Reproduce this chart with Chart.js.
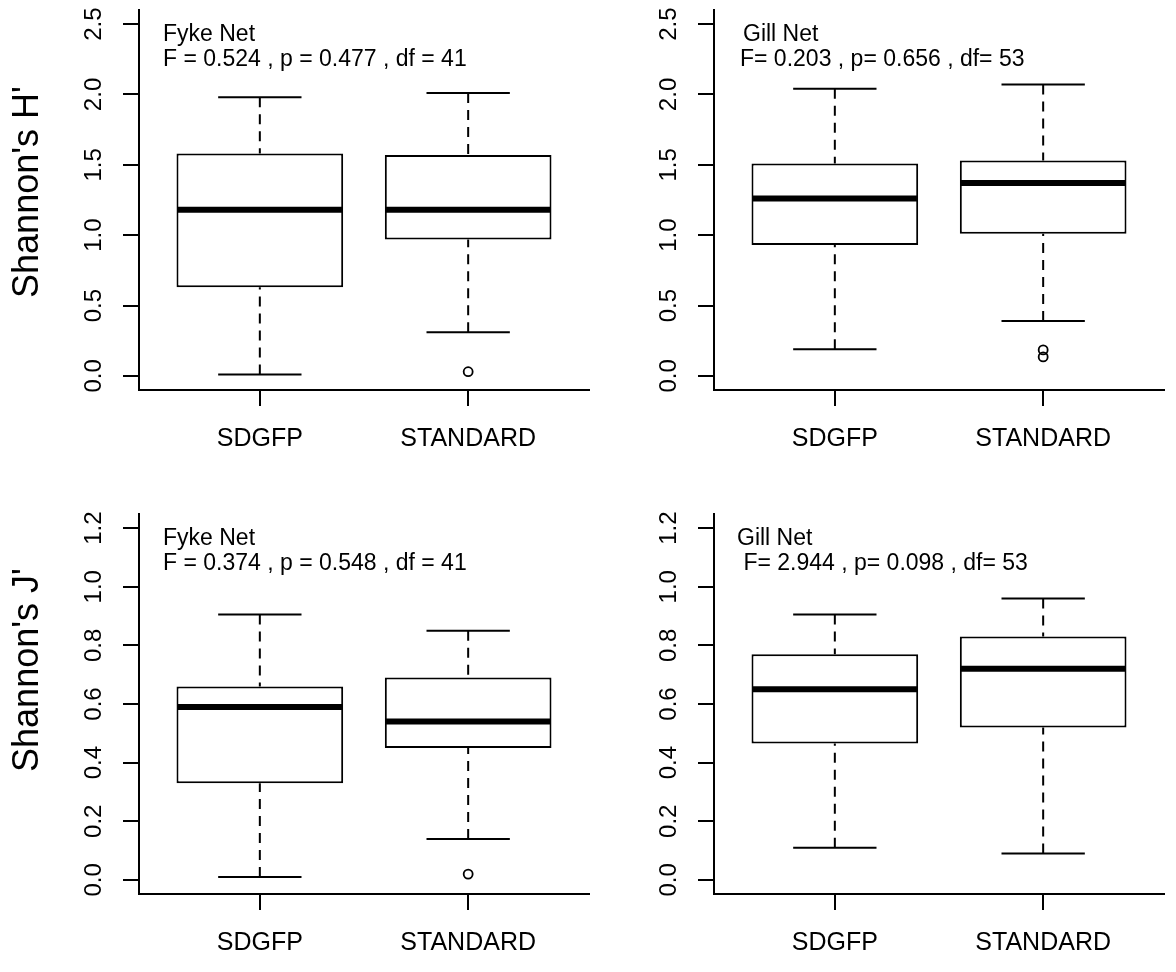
<!DOCTYPE html>
<html>
<head>
<meta charset="utf-8">
<script src="https://cdn.jsdelivr.net/npm/chart.js@4.4.1/dist/chart.umd.min.js"></script>
<style>
html, body { margin: 0; padding: 0; background: #fff; }
#wrap { position: relative; width: 1176px; height: 972px; overflow: hidden; }
canvas { position: absolute; }
</style>
</head>
<body>
<div id="wrap">
  <canvas id="fykeH" width="600" height="486" style="left:0px;top:0px"></canvas>
  <canvas id="gillH" width="588" height="486" style="left:588px;top:0px"></canvas>
  <canvas id="fykeJ" width="600" height="486" style="left:0px;top:486px"></canvas>
  <canvas id="gillJ" width="588" height="486" style="left:588px;top:486px"></canvas>
</div>
<script>
// groups on the x axis
var groups = ['SDGFP', 'STANDARD'];

// y tick labels
var ticksH = [0, 0.5, 1.0, 1.5, 2.0, 2.5];
var ticksJ = [0, 0.2, 0.4, 0.6, 0.8, 1.0, 1.2];

// box stats per group: [lower whisker, Q1, median, Q3, upper whisker]
var fykeHStats = [[0.01, 0.63, 1.18, 1.58, 1.98], [0.31, 0.97, 1.18, 1.57, 2.01]];
var gillHStats = [[0.19, 0.93, 1.26, 1.51, 2.04], [0.39, 1.01, 1.37, 1.53, 2.07]];
var fykeJStats = [[0.01, 0.33, 0.59, 0.66, 0.905], [0.14, 0.45, 0.54, 0.69, 0.85]];
var gillJStats = [[0.11, 0.465, 0.65, 0.77, 0.905], [0.09, 0.52, 0.72, 0.83, 0.96]];

// outliers per group
var fykeHOut = [[], [0.03]];
var gillHOut = [[], [0.185, 0.135]];
var fykeJOut = [[], [0.02]];
var gillJOut = [[], []];

var FONT = "'Liberation Sans', Arial, Helvetica, sans-serif";

// whiskers, caps, medians, y labels and the text in the corner
var boxPlugin = {
  id: 'boxPlugin',
  afterDatasetsDraw: function(chart, args, opts) {
    var ctx = chart.ctx;
    var xs = chart.scales.x, ys = chart.scales.y;
    var area = chart.chartArea;
    ctx.save();
    ctx.strokeStyle = '#000';
    opts.stats.forEach(function(s, i) {
      var px = xs.getPixelForValue(i + 1);
      // dashed whiskers from the ends to the box
      ctx.lineWidth = 2;
      ctx.setLineDash([10, 7]);
      ctx.beginPath();
      ctx.moveTo(px, ys.getPixelForValue(s[0]));
      ctx.lineTo(px, ys.getPixelForValue(s[1]));
      ctx.moveTo(px, ys.getPixelForValue(s[4]));
      ctx.lineTo(px, ys.getPixelForValue(s[3]));
      ctx.stroke();
      ctx.setLineDash([]);
      // staples
      var c0 = xs.getPixelForValue(i + 1 - 0.2), c1 = xs.getPixelForValue(i + 1 + 0.2);
      ctx.beginPath();
      ctx.moveTo(c0, ys.getPixelForValue(s[0]));
      ctx.lineTo(c1, ys.getPixelForValue(s[0]));
      ctx.moveTo(c0, ys.getPixelForValue(s[4]));
      ctx.lineTo(c1, ys.getPixelForValue(s[4]));
      ctx.stroke();
      // median
      ctx.lineWidth = 6;
      ctx.beginPath();
      ctx.moveTo(xs.getPixelForValue(i + 1 - 0.4) + 1, ys.getPixelForValue(s[2]));
      ctx.lineTo(xs.getPixelForValue(i + 1 + 0.4) - 1, ys.getPixelForValue(s[2]));
      ctx.stroke();
    });

    // rotated y tick labels
    ctx.fillStyle = '#000';
    ctx.font = '24px ' + FONT;
    ctx.textAlign = 'center';
    ctx.textBaseline = 'middle';
    opts.ticks.forEach(function(v) {
      ctx.save();
      ctx.translate(area.left - 45, ys.getPixelForValue(v));
      ctx.rotate(-Math.PI / 2);
      ctx.fillText(v.toFixed(1), 0, 0);
      ctx.restore();
    });

    // y axis title
    if (opts.ylab) {
      ctx.save();
      ctx.font = '36px ' + FONT;
      ctx.translate(28, opts.ylabY);
      ctx.rotate(-Math.PI / 2);
      ctx.fillText(opts.ylab, 0, 0);
      ctx.restore();
    }

    // net name and test result
    ctx.font = '23px ' + FONT;
    ctx.textAlign = 'left';
    ctx.textBaseline = 'alphabetic';
    ctx.fillText(opts.title, area.left + opts.tx[0], area.top + 31);
    ctx.fillText(opts.result, area.left + opts.tx[1], area.top + 56);
    ctx.restore();
  }
};

function makePanel(id, stats, outliers, ticks, ylab, ylabY, title, result, tx, padTop, padRight, yWidth, xHeight) {
  var lo = ticks[0], hi = ticks[ticks.length - 1];
  var ext = (hi - lo) * 0.04;
  var outPts = [];
  outliers.forEach(function(list, i) {
    list.forEach(function(v) { outPts.push({ x: i + 1, y: v }); });
  });
  var axisGrid = { drawOnChartArea: false, drawTicks: true, tickLength: 16, color: '#000', lineWidth: 2 };
  var axisBorder = { display: true, color: '#000', width: 2 };

  return new Chart(document.getElementById(id), {
    type: 'bar',
    data: {
      datasets: [{
        type: 'bar',
        data: stats.map(function(s, i) { return { x: i + 1, y: [s[1], s[3]] }; }),
        backgroundColor: '#fff',
        borderColor: '#000',
        borderWidth: 2,
        borderSkipped: false,
        barPercentage: 0.8,
        categoryPercentage: 1
      }, {
        type: 'scatter',
        data: outPts,
        pointRadius: 4.5,
        pointBorderWidth: 1.8,
        pointBackgroundColor: 'rgba(0,0,0,0)',
        pointBorderColor: '#000',
        showLine: false
      }]
    },
    options: {
      responsive: false,
      animation: false,
      events: [],
      devicePixelRatio: 1,
      layout: { autoPadding: false, padding: { left: 0, right: padRight, top: padTop, bottom: 0 } },
      plugins: {
        legend: { display: false },
        tooltip: { enabled: false },
        boxPlugin: { stats: stats, ticks: ticks, ylab: ylab, ylabY: ylabY, title: title, result: result, tx: tx }
      },
      scales: {
        x: {
          type: 'linear',
          min: 0.42,
          max: 2.58,
          offset: false,
          afterBuildTicks: function(s) { s.ticks = groups.map(function(g, i) { return { value: i + 1 }; }); },
          afterFit: function(s) { s.height = xHeight; },
          grid: Object.assign({ offset: false }, axisGrid),
          border: axisBorder,
          ticks: {
            autoSkip: false,
            maxRotation: 0,
            padding: 18,
            color: '#000',
            font: { family: FONT, size: 25 },
            callback: function(v, i) { return groups[i]; }
          }
        },
        y: {
          type: 'linear',
          min: lo - ext,
          max: hi + ext,
          afterBuildTicks: function(s) { s.ticks = ticks.map(function(v) { return { value: v }; }); },
          afterFit: function(s) { s.width = yWidth; },
          grid: axisGrid,
          border: axisBorder,
          ticks: { display: false }
        }
      }
    },
    plugins: [boxPlugin]
  });
}

makePanel('fykeH', fykeHStats, fykeHOut, ticksH, "Shannon's H'", 192, 'Fyke Net',
  'F = 0.524 , p = 0.477 , df = 41', [24, 24], 10, 11, 139, 96);
makePanel('gillH', gillHStats, gillHOut, ticksH, null, 0, 'Gill Net',
  'F= 0.203 , p= 0.656 , df= 53', [29, 26], 10, 12, 126, 96);
makePanel('fykeJ', fykeJStats, fykeJOut, ticksJ, "Shannon's J'", 184, 'Fyke Net',
  'F = 0.374 , p = 0.548 , df = 41', [24, 24], 28, 11, 139, 78);
makePanel('gillJ', gillJStats, gillJOut, ticksJ, null, 0, 'Gill Net',
  ' F= 2.944 , p= 0.098 , df= 53', [23, 23], 28, 12, 126, 78);
</script>
</body>
</html>
